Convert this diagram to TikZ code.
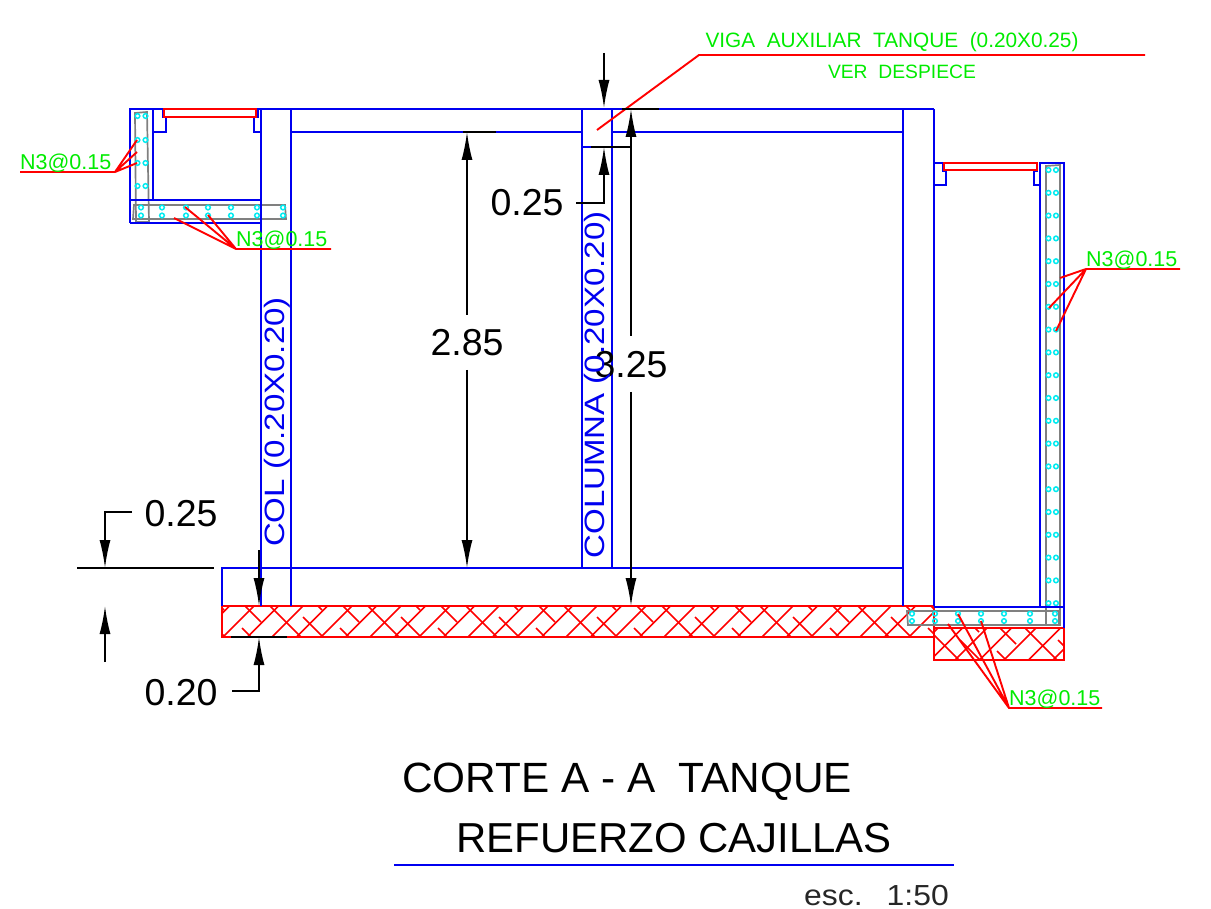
\documentclass[tikz,border=0pt]{standalone}
\usepackage{fontspec}
\setmainfont{Liberation Sans}
\newfontfamily\widefont[FakeStretch=1.18]{Liberation Sans}
\newfontfamily\escfont[FakeStretch=1.1]{Liberation Sans}
\usetikzlibrary{arrows.meta}
\definecolor{cadblue}{RGB}{0,0,240}
\definecolor{cadred}{RGB}{255,0,0}
\definecolor{cadgreen}{RGB}{0,235,0}
\definecolor{cadcyan}{RGB}{0,235,240}
\definecolor{cadgray}{RGB}{128,128,128}
\tikzset{
  bl/.style={draw=cadblue,line width=1.9pt},
  rd/.style={draw=cadred,line width=1.9pt},
  hatchl/.style={draw=cadred,line width=1.5pt},
  gy/.style={draw=cadgray,line width=1.7pt},
  bar/.style={draw=cadcyan,line width=1.5pt},
  dim/.style={draw=black,line width=1.8pt},
  arr/.style={dim,-{Latex[length=28pt,width=11pt]}},
  dimtxt/.style={inner sep=0pt,font=\fontsize{37.5}{37.5}\selectfont,text=black},
  lab/.style={inner sep=0pt,anchor=west,text=cadgreen,font=\fontsize{21.5}{21.5}\selectfont},
  lab2/.style={inner sep=0pt,text=cadgreen,font=\fontsize{20.8}{20.8}\selectfont},
  lab3/.style={inner sep=0pt,text=cadgreen,font=\fontsize{19.3}{19.3}\selectfont},
  coltxt/.style={inner sep=0pt,rotate=90,text=cadblue,font=\widefont\fontsize{28}{28}\selectfont},
  title/.style={inner sep=0pt,anchor=west,text=black,font=\fontsize{42.3}{42.3}\selectfont},
}
\newcommand{\hatchpattern}[4]{% #1 x0 of first period, #2 top y, #3 height, #4 number of periods
  \foreach \k in {0,...,#4}{
    \pgfmathsetmacro\xa{#1+98*\k}
    \draw[hatchl] (\xa,#2) -- ++(16,16);
    \draw[hatchl] (\xa+25,#2) -- ++(#3,#3);
    \draw[hatchl] (\xa-3,#2+#3-9) -- ++(9,9);
    \draw[hatchl] (\xa+73,#2) -- ++(4,4);
    \draw[hatchl] (\xa+58,#2+#3-20) -- ++(20,20);
  }
}
\begin{document}
\begin{tikzpicture}[x=1pt,y=-1pt]
\useasboundingbox (0,0) rectangle (1211,909);
% hatching
\begin{scope}
\clip (222,606) rectangle (934,637);
\foreach \i in {-1,...,29}{
  \pgfmathsetmacro\xa{223+24.5*\i}
  \draw[hatchl] (\xa,637) -- ++(31,-31);
}
\hatchpattern{147}{606}{31}{8}
\end{scope}
\begin{scope}
\clip (934,628) rectangle (1064,660);
\foreach \i in {-2,...,5}{
  \pgfmathsetmacro\xa{955+24.5*\i}
  \draw[hatchl] (\xa,660) -- ++(32,-32);
}
\hatchpattern{902}{628}{32}{1}
\end{scope}
\draw[rd] (222,606) rectangle (934,637);
\draw[rd] (934,628) rectangle (1064,660);
% gray slabs
\draw[gy] (135,113) -- (147,112) -- (149,222) -- (136,222) -- cycle;
\draw[gy] (134,205) -- (285,205) -- (286,219) -- (133,219) -- cycle;
\draw[gy] (1046,166) -- (1060,165) -- (1060,625) -- (1046,625) -- cycle;
\draw[gy] (907,611) -- (1059,611) -- (1059,625) -- (908,625) -- cycle;
% bars
\foreach \y in {116,140,163,186}{
  \draw[bar] (137.5,\y) circle (2.3pt);
  \draw[bar] (145.5,\y) circle (2.3pt);
}
\foreach \x in {141,162,186,208,231,257,283}{
  \draw[bar] (\x,207.5) circle (2.3pt);
  \draw[bar] (\x,215.5) circle (2.3pt);
}
\foreach \i in {0,...,19}{
  \pgfmathsetmacro\yy{170+22.8*\i}
  \draw[bar] (1048.5,\yy) circle (2.3pt);
  \draw[bar] (1056,\yy) circle (2.3pt);
}
\foreach \x in {912,935,958,981,1004,1030,1055}{
  \draw[bar] (\x,613.7) circle (2.3pt);
  \draw[bar] (\x,621) circle (2.3pt);
}
% blue outlines
\draw[bl] (130,223) -- (130,109) -- (934,109);
\draw[bl] (153,109) -- (153,200);
\draw[bl] (130,200) -- (261,200);
\draw[bl] (130,223) -- (261,223);
\draw[bl] (163,109) -- (163,117) -- (166,117) -- (166,132) -- (153,132);
\draw[bl] (258,109) -- (258,117) -- (254,117) -- (254,132) -- (261,132);
\draw[bl] (261,109) -- (261,606);
\draw[bl] (291,109) -- (291,606);
\draw[bl] (291,132) -- (582,132);
\draw[bl] (612,132) -- (903,132);
\draw[bl] (582,109) -- (582,568);
\draw[bl] (612,109) -- (612,568);
\draw[bl] (582,147) -- (612,147);
\draw[bl] (903,109) -- (903,606);
\draw[bl] (934,109) -- (934,606);
\draw[bl] (222,606) -- (222,568) -- (903,568);
\draw[bl] (934,163) -- (944,163);
\draw[bl] (934,185) -- (946,185) -- (946,171) -- (943,171) -- (943,163);
\draw[bl] (1040,185) -- (1034,185) -- (1034,171) -- (1037,171) -- (1037,163);
\draw[bl] (1040,607) -- (1040,163) -- (1064,163) -- (1064,628);
\draw[bl] (934,607) -- (1064,607);
% covers
\draw[rd] (164,109) rectangle (256,117);
\draw[rd] (944,163) rectangle (1037,170);
% leaders
\coordinate (apexA) at (115,172);
\coordinate (apexB) at (236,249);
\coordinate (apexC) at (1086,269);
\coordinate (apexD) at (1009,708);
\coordinate (apexE) at (699,55);
\draw[rd] (20,172) -- (apexA) -- (137,140) (apexA) -- (137,152) (apexA) -- (137,163);
\draw[rd] (331,249) -- (apexB) -- (185,207) (apexB) -- (208,215) (apexB) -- (174,218);
\draw[rd] (1180,269) -- (apexC) -- (1060,278) (apexC) -- (1049,308) (apexC) -- (1056,331);
\draw[rd] (1102,708) -- (apexD) -- (958,614) (apexD) -- (981,621) (apexD) -- (948,624);
\draw[rd] (597,130) -- (apexE) -- (1145,55);
% dimensions
\draw[arr] (604,53) -- (604,108);
\draw[arr] (576,203) -- (604,203) -- (604,147);
\draw[dim] (591,147) -- (631,147);
\draw[dim] (622,109) -- (659,109);
\draw[arr] (631,336) -- (631,109);
\draw[arr] (631,392) -- (631,606);
\draw[dim] (463,132) -- (496,132);
\draw[arr] (467,315) -- (467,132);
\draw[arr] (467,370) -- (467,568);
\draw[dim] (77,568) -- (214,568);
\draw[arr] (132,512) -- (105,512) -- (105,568);
\draw[arr] (105,662) -- (105,606);
\draw[arr] (259,550) -- (259,606);
\draw[arr] (232,691) -- (259,691) -- (259,637);
\draw[dim] (231,637) -- (287,637);
% texts
\node[lab] (n1) at (20,163) {N3@0.15};
\node[lab] (n2) at (236,240) {N3@0.15};
\node[lab] (n3) at (1086,260) {N3@0.15};
\node[lab] (n4) at (1009,699) {N3@0.15};
\node[lab2] (viga) at (892,42) {VIGA\ \ AUXILIAR\ \ TANQUE\ \ (0.20X0.25)};
\node[lab3] (ver) at (902,72) {VER\ \ DESPIECE};
\node[dimtxt] (d1) at (527,203) {0.25};
\node[dimtxt] (d2) at (467,343) {2.85};
\node[dimtxt] (d3) at (631,365) {3.25};
\node[dimtxt] (d4) at (181,514) {0.25};
\node[dimtxt] (d5) at (181,693) {0.20};
\node[coltxt] (c1) at (277,422) {COL (0.20X0.20)};
\node[coltxt] (c2) at (597,385) {COLUMNA (0.20X0.20)};
\node[title] (t1) at (402,782) {CORTE A - A\ \ TANQUE};
\node[title,font=\fontsize{41.9}{41.9}\selectfont] (t2) at (456,838) {REFUERZO CAJILLAS};
\draw[bl] (394,865) -- (954,865);
\node[inner sep=0pt,anchor=base west,text=black!85,font=\escfont\fontsize{29}{29}\selectfont] (esc) at (804,905) {esc.\hspace{24pt}1:50};
\end{tikzpicture}
\end{document}
